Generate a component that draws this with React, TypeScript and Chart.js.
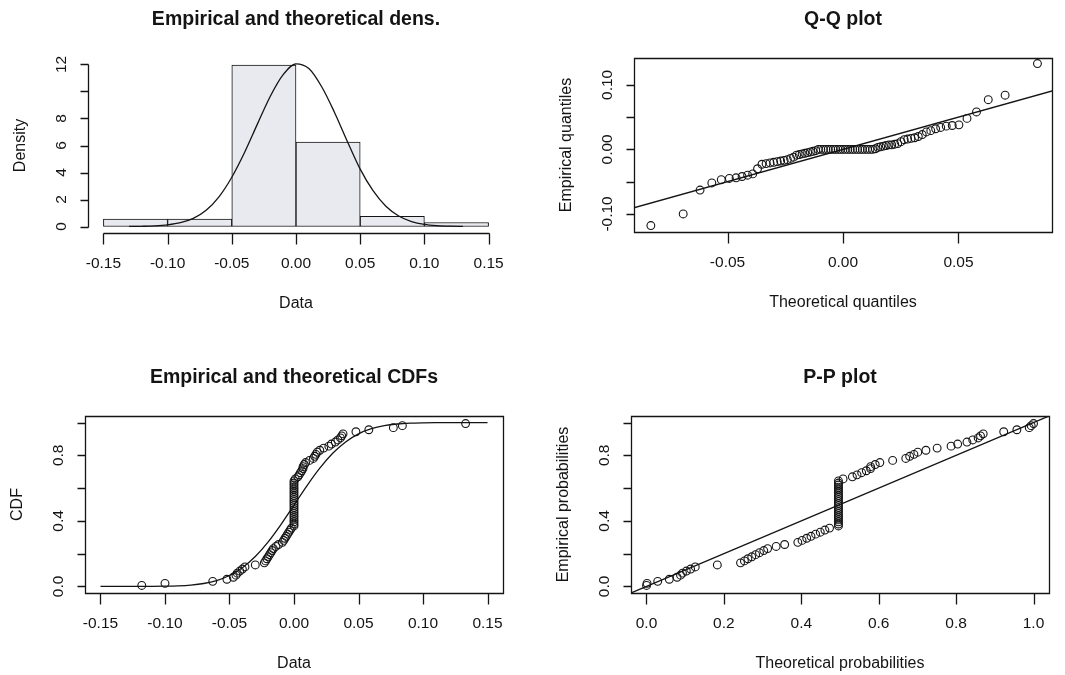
import React, { useEffect, useRef } from "react";
import { Chart, registerables } from "chart.js";

Chart.register(...registerables);

// ---------- data ----------
// Histogram (density scale) of the sample, bins of width 0.05
const densityBinMids = [-0.125, -0.075, -0.025, 0.025, 0.075, 0.125];
const densityHeights = [0.55, 0.55, 11.95, 6.25, 0.75, 0.3];

// Fitted (theoretical) density curve
const densityCurveX = [-0.13, -0.12, -0.11, -0.1, -0.09, -0.08, -0.07, -0.06, -0.05, -0.04, -0.03, -0.02, -0.01, 0, 0.01, 0.02, 0.03, 0.04, 0.05, 0.06, 0.07, 0.08, 0.09, 0.1, 0.11, 0.12, 0.13];
const densityCurveY = [0.005, 0.016, 0.045, 0.12, 0.28, 0.6, 1.2, 2.2, 3.65, 5.5, 7.6, 9.65, 11.25, 12.05, 11.7, 10.35, 8.45, 6.3, 4.25, 2.65, 1.5, 0.78, 0.37, 0.16, 0.065, 0.024, 0.008];

// Sorted sample (empirical quantiles / data values)
const sampleSorted = [
  -0.118, -0.1, -0.063, -0.052, -0.047, -0.045, -0.044, -0.042, -0.04, -0.038,
  -0.03, -0.023, -0.022, -0.021, -0.02, -0.019, -0.018, -0.017, -0.016, -0.014,
  -0.012, -0.009, -0.008, -0.007, -0.006, -0.005, -0.004, -0.003, -0.002, 0,
  0, 0, 0, 0, 0, 0, 0, 0, 0, 0,
  0, 0, 0, 0, 0, 0, 0, 0, 0, 0,
  0, 0, 0.001, 0.003, 0.004, 0.005, 0.006, 0.007, 0.007, 0.008,
  0.009, 0.012, 0.015, 0.016, 0.017, 0.018, 0.02, 0.023, 0.027, 0.029,
  0.032, 0.034, 0.036, 0.037, 0.038, 0.048, 0.058, 0.077, 0.084, 0.133,
];

// Theoretical quantiles (Q-Q plot x positions)
const qqTheoretical = [
  -0.0832, -0.0692, -0.0619, -0.0568, -0.0527, -0.0492, -0.0463, -0.0437, -0.0413, -0.0391,
  -0.037, -0.0351, -0.0333, -0.0316, -0.03, -0.0285, -0.027, -0.0255, -0.0241, -0.0227,
  -0.0214, -0.0201, -0.0189, -0.0177, -0.0165, -0.0153, -0.0141, -0.013, -0.0118, -0.0107,
  -0.0096, -0.0085, -0.0074, -0.0064, -0.0053, -0.0042, -0.0032, -0.0021, -0.0011, 0.0,
  0.001, 0.0021, 0.0031, 0.0042, 0.0052, 0.0063, 0.0074, 0.0084, 0.0095, 0.0106,
  0.0117, 0.0128, 0.014, 0.0151, 0.0163, 0.0175, 0.0187, 0.0199, 0.0211, 0.0224,
  0.0237, 0.0251, 0.0265, 0.028, 0.0295, 0.031, 0.0326, 0.0343, 0.0361, 0.038,
  0.0401, 0.0423, 0.0447, 0.0473, 0.0502, 0.0537, 0.0578, 0.0629, 0.0702, 0.0842,
];

// Empirical probabilities (CDF / P-P y positions)
const empiricalProb = [
  0.006, 0.019, 0.031, 0.044, 0.056, 0.069, 0.081, 0.094, 0.106, 0.119,
  0.131, 0.144, 0.156, 0.169, 0.181, 0.194, 0.206, 0.219, 0.231, 0.244,
  0.256, 0.269, 0.281, 0.294, 0.306, 0.319, 0.331, 0.344, 0.356, 0.369,
  0.381, 0.394, 0.406, 0.419, 0.431, 0.444, 0.456, 0.469, 0.481, 0.494,
  0.506, 0.519, 0.531, 0.544, 0.556, 0.569, 0.581, 0.594, 0.606, 0.619,
  0.631, 0.644, 0.656, 0.669, 0.681, 0.694, 0.706, 0.719, 0.731, 0.744,
  0.756, 0.769, 0.781, 0.794, 0.806, 0.819, 0.831, 0.844, 0.856, 0.869,
  0.881, 0.894, 0.906, 0.919, 0.931, 0.944, 0.956, 0.969, 0.981, 0.994,
];

// Theoretical probabilities (P-P plot x positions)
const ppTheoretical = [
  0.0002, 0.0014, 0.029, 0.059, 0.079, 0.088, 0.093, 0.103, 0.114, 0.126,
  0.183, 0.243, 0.253, 0.262, 0.272, 0.282, 0.292, 0.303, 0.313, 0.335,
  0.357, 0.391, 0.402, 0.414, 0.425, 0.437, 0.449, 0.461, 0.473, 0.496,
  0.496, 0.496, 0.496, 0.496, 0.496, 0.496, 0.496, 0.496, 0.496, 0.496,
  0.496, 0.496, 0.496, 0.496, 0.496, 0.496, 0.496, 0.496, 0.496, 0.496,
  0.496, 0.496, 0.508, 0.532, 0.544, 0.556, 0.568, 0.579, 0.579, 0.591,
  0.603, 0.636, 0.67, 0.68, 0.691, 0.701, 0.722, 0.751, 0.787, 0.804,
  0.828, 0.843, 0.857, 0.863, 0.87, 0.923, 0.957, 0.989, 0.994, 1.0,
];

// Fitted (theoretical) CDF curve
const cdfCurveX = [-0.15, -0.14, -0.13, -0.12, -0.11, -0.1, -0.09, -0.08, -0.07, -0.06, -0.05, -0.04, -0.03, -0.02, -0.01, 0, 0.01, 0.02, 0.03, 0.04, 0.05, 0.06, 0.07, 0.08, 0.09, 0.1, 0.11, 0.12, 0.13, 0.14, 0.15];
const cdfCurveY = [0, 0, 0.0001, 0.0002, 0.0005, 0.0014, 0.0035, 0.0083, 0.0179, 0.0359, 0.0666, 0.1145, 0.1829, 0.2723, 0.3793, 0.4964, 0.6141, 0.7218, 0.8124, 0.882, 0.9311, 0.9626, 0.9813, 0.9913, 0.9963, 0.9985, 0.9995, 0.9998, 0.9999, 1, 1];

// Reference lines y = x
const qqLineX = [-0.1, 0.1];
const qqLineY = [-0.1, 0.1];
const ppLineX = [-0.1, 1.1];
const ppLineY = [-0.1, 1.1];

// Axis ticks and labels
const densityXTicks = [-0.15, -0.1, -0.05, 0, 0.05, 0.1, 0.15];
const densityXLabels = ["-0.15", "-0.10", "-0.05", "0.00", "0.05", "0.10", "0.15"];
const densityYTicks = [0, 2, 4, 6, 8, 10, 12];
const densityYLabels = ["0", "2", "4", "6", "8", "", "12"];
const qqXTicks = [-0.05, 0, 0.05];
const qqXLabels = ["-0.05", "0.00", "0.05"];
const qqYTicks = [-0.1, -0.05, 0, 0.05, 0.1];
const qqYLabels = ["-0.10", "", "0.00", "", "0.10"];
const probTicks = [0, 0.2, 0.4, 0.6, 0.8, 1.0];
const probXLabels = ["0.0", "0.2", "0.4", "0.6", "0.8", "1.0"];
const probYLabels = ["0.0", "", "0.4", "", "0.8", ""];

// ---------- styling ----------
const W = 1065;
const H = 675;
const FONT = "'Liberation Sans', Arial, Helvetica, sans-serif";
const INK = "#141414";
const BAR_FILL = "#e9eaef";

type Frame = { left: number; top: number; right: number; bottom: number };

interface AxisSpec {
  boxed: boolean;
  title: string;
  xTitle: string;
  yTitle: string;
  xTicks: number[];
  xLabels: string[];
  yTicks: number[];
  yLabels: string[];
}

function makeRAxes(o: AxisSpec) {
  return {
    id: "rAxes",
    afterDraw(chart: any) {
      const { ctx, chartArea: a } = chart;
      const xs = chart.scales.x;
      const ys = chart.scales.y;
      const sx = (v: number) => Math.round(xs.getPixelForValue(v)) + 0.5;
      const sy = (v: number) => Math.round(ys.getPixelForValue(v)) + 0.5;
      const L = Math.round(a.left) + 0.5;
      const R = Math.round(a.right) + 0.5;
      const T = Math.round(a.top) + 0.5;
      const B = Math.round(a.bottom) + 0.5;
      ctx.save();
      ctx.strokeStyle = INK;
      ctx.fillStyle = INK;
      ctx.lineWidth = 1.3;
      ctx.beginPath();
      if (o.boxed) {
        ctx.rect(L, T, R - L, B - T);
      } else {
        ctx.moveTo(sx(o.xTicks[0]), B);
        ctx.lineTo(sx(o.xTicks[o.xTicks.length - 1]), B);
        ctx.moveTo(L, sy(o.yTicks[0]));
        ctx.lineTo(L, sy(o.yTicks[o.yTicks.length - 1]));
      }
      o.xTicks.forEach((v) => {
        ctx.moveTo(sx(v), B);
        ctx.lineTo(sx(v), B + 11);
      });
      o.yTicks.forEach((v) => {
        ctx.moveTo(L, sy(v));
        ctx.lineTo(L - 8, sy(v));
      });
      ctx.stroke();

      ctx.textAlign = "center";
      ctx.textBaseline = "middle";
      ctx.font = `15.5px ${FONT}`;
      o.xTicks.forEach((v, i) => {
        if (o.xLabels[i]) ctx.fillText(o.xLabels[i], xs.getPixelForValue(v), B + 30);
      });
      o.yTicks.forEach((v, i) => {
        if (!o.yLabels[i]) return;
        ctx.save();
        ctx.translate(L - 27, ys.getPixelForValue(v));
        ctx.rotate(-Math.PI / 2);
        ctx.fillText(o.yLabels[i], 0, 0);
        ctx.restore();
      });

      const cx = (a.left + a.right) / 2;
      const cy = (a.top + a.bottom) / 2;
      ctx.font = `16px ${FONT}`;
      ctx.fillText(o.xTitle, cx, B + 70);
      ctx.save();
      ctx.translate(L - 68, cy);
      ctx.rotate(-Math.PI / 2);
      ctx.fillText(o.yTitle, 0, 0);
      ctx.restore();

      ctx.font = `bold 19.5px ${FONT}`;
      ctx.fillText(o.title, cx, a.top - 38);
      ctx.restore();
    },
  };
}

function baseOptions(f: Frame, xMin: number, xMax: number, yMin: number, yMax: number): any {
  return {
    responsive: false,
    animation: false,
    events: [],
    layout: {
      padding: { left: f.left, top: f.top, right: W - f.right, bottom: H - f.bottom },
    },
    plugins: {
      legend: { display: false },
      tooltip: { enabled: false },
      title: { display: false },
    },
    scales: {
      x: { type: "linear", min: xMin, max: xMax, offset: false, display: false },
      y: { type: "linear", min: yMin, max: yMax, display: false },
    },
  };
}

const pointStyle = {
  pointRadius: 3.9,
  pointBorderWidth: 1.1,
  pointBorderColor: INK,
  pointBackgroundColor: "rgba(0,0,0,0)",
  borderColor: INK,
  showLine: false,
};

const lineStyle = {
  borderColor: INK,
  borderWidth: 1.3,
  pointRadius: 0,
  fill: false,
  showLine: true,
};

function buildConfigs(): any[] {
  const dens = {
    type: "bar",
    data: {
      datasets: [
        {
          type: "bar",
          data: densityBinMids.map((x, i) => ({ x, y: densityHeights[i] })),
          backgroundColor: BAR_FILL,
          borderColor: INK,
          borderWidth: 1,
          borderSkipped: false,
          barThickness: "flex",
          categoryPercentage: 1,
          barPercentage: 1,
          order: 2,
        },
        {
          type: "line",
          data: densityCurveX.map((x, i) => ({ x, y: densityCurveY[i] })),
          ...lineStyle,
          cubicInterpolationMode: "monotone",
          order: 1,
        },
      ],
    },
    options: baseOptions({ left: 88, top: 58, right: 504, bottom: 233 }, -0.162, 0.162, -0.48, 12.48),
    plugins: [
      makeRAxes({
        boxed: false,
        title: "Empirical and theoretical dens.",
        xTitle: "Data",
        yTitle: "Density",
        xTicks: densityXTicks,
        xLabels: densityXLabels,
        yTicks: densityYTicks,
        yLabels: densityYLabels,
      }),
    ],
  };

  const qq = {
    type: "scatter",
    data: {
      datasets: [
        { data: qqTheoretical.map((x, i) => ({ x, y: sampleSorted[i] })), ...pointStyle },
        { data: qqLineX.map((x, i) => ({ x, y: qqLineY[i] })), ...lineStyle },
      ],
    },
    options: baseOptions({ left: 634, top: 58, right: 1052, bottom: 232 }, -0.0905, 0.0905, -0.128, 0.1416),
    plugins: [
      makeRAxes({
        boxed: true,
        title: "Q-Q plot",
        xTitle: "Theoretical quantiles",
        yTitle: "Empirical quantiles",
        xTicks: qqXTicks,
        xLabels: qqXLabels,
        yTicks: qqYTicks,
        yLabels: qqYLabels,
      }),
    ],
  };

  const cdf = {
    type: "scatter",
    data: {
      datasets: [
        { data: sampleSorted.map((x, i) => ({ x, y: empiricalProb[i] })), ...pointStyle },
        {
          data: cdfCurveX.map((x, i) => ({ x, y: cdfCurveY[i] })),
          ...lineStyle,
          cubicInterpolationMode: "monotone",
        },
      ],
    },
    options: baseOptions({ left: 85, top: 416, right: 503, bottom: 593 }, -0.162, 0.162, -0.04, 1.04),
    plugins: [
      makeRAxes({
        boxed: true,
        title: "Empirical and theoretical CDFs",
        xTitle: "Data",
        yTitle: "CDF",
        xTicks: densityXTicks,
        xLabels: densityXLabels,
        yTicks: probTicks,
        yLabels: probYLabels,
      }),
    ],
  };

  const pp = {
    type: "scatter",
    data: {
      datasets: [
        { data: ppTheoretical.map((x, i) => ({ x, y: empiricalProb[i] })), ...pointStyle },
        { data: ppLineX.map((x, i) => ({ x, y: ppLineY[i] })), ...lineStyle },
      ],
    },
    options: baseOptions({ left: 631, top: 416, right: 1049, bottom: 593 }, -0.04, 1.04, -0.04, 1.04),
    plugins: [
      makeRAxes({
        boxed: true,
        title: "P-P plot",
        xTitle: "Theoretical probabilities",
        yTitle: "Empirical probabilities",
        xTicks: probTicks,
        xLabels: probXLabels,
        yTicks: probTicks,
        yLabels: probYLabels,
      }),
    ],
  };

  return [dens, qq, cdf, pp];
}

export default function App() {
  const refs = [
    useRef<HTMLCanvasElement | null>(null),
    useRef<HTMLCanvasElement | null>(null),
    useRef<HTMLCanvasElement | null>(null),
    useRef<HTMLCanvasElement | null>(null),
  ];

  useEffect(() => {
    const configs = buildConfigs();
    const charts: Chart[] = [];
    configs.forEach((cfg, i) => {
      const c = refs[i].current;
      if (c) charts.push(new Chart(c, cfg));
    });
    return () => charts.forEach((ch) => ch.destroy());
  }, []);

  return (
    <div
      style={{
        position: "absolute",
        left: 0,
        top: 0,
        width: W,
        height: H,
        background: "#ffffff",
        overflow: "hidden",
      }}
    >
      {refs.map((r, i) => (
        <canvas
          key={i}
          ref={r}
          width={W}
          height={H}
          style={{ position: "absolute", left: 0, top: 0, width: W, height: H, pointerEvents: "none" }}
        />
      ))}
    </div>
  );
}
